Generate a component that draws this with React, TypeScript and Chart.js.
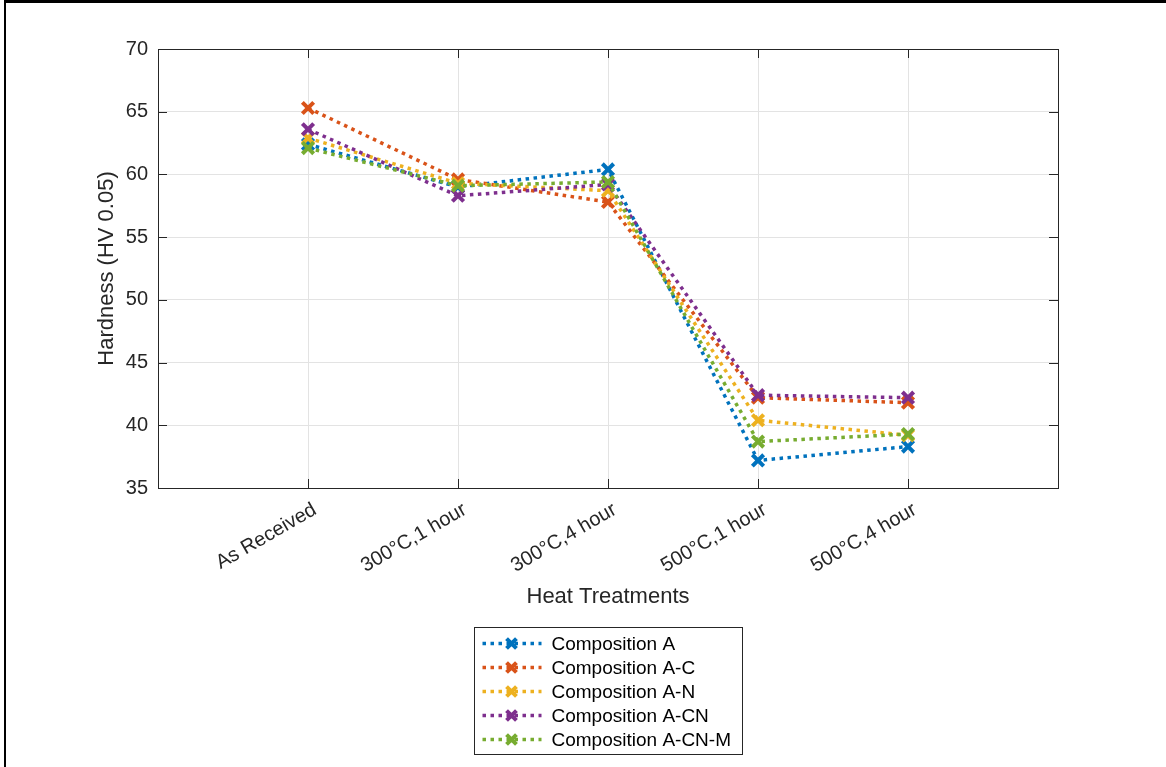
import React, { useEffect, useRef } from "react";
import { Chart, registerables } from "chart.js";

Chart.register(...registerables);

const categories = ["As Received", "300°C,1 hour", "300°C,4 hour", "500°C,1 hour", "500°C,4 hour"];
const seriesNames = ["Composition A", "Composition A-C", "Composition A-N", "Composition A-CN", "Composition A-CN-M"];
const compA = [62.4, 59.0, 60.4, 37.2, 38.3];
const compAC = [65.3, 59.6, 57.8, 42.2, 41.8];
const compAN = [62.9, 59.3, 58.7, 40.4, 39.2];
const compACN = [63.6, 58.3, 59.2, 42.4, 42.2];
const compACNM = [62.1, 59.1, 59.4, 38.7, 39.3];
const seriesColors = ["#0072BD", "#D95319", "#EDB120", "#7E2F8E", "#77AC30"];
const yTicks = [35, 40, 45, 50, 55, 60, 65, 70];

const FONT = "'Liberation Sans', Arial, Helvetica, sans-serif";
const AXIS_COLOR = "#262626";

function drawCross(ctx: CanvasRenderingContext2D, x: number, y: number, r: number, color: string, lw: number) {
  const o = Math.cos(Math.PI / 4) * r;
  ctx.save();
  ctx.strokeStyle = color;
  ctx.lineWidth = lw;
  ctx.setLineDash([]);
  ctx.beginPath();
  ctx.moveTo(x - o, y - o);
  ctx.lineTo(x + o, y + o);
  ctx.moveTo(x - o, y + o);
  ctx.lineTo(x + o, y - o);
  ctx.stroke();
  ctx.restore();
}

const boxPlugin = {
  id: "boxPlugin",
  afterDraw(chart: any) {
    const ctx = chart.ctx as CanvasRenderingContext2D;
    const { left, right, top, bottom } = chart.chartArea;
    ctx.save();
    ctx.strokeStyle = AXIS_COLOR;
    ctx.lineWidth = 1;
    ctx.strokeRect(Math.round(left) + 0.5, Math.round(top) + 0.5, Math.round(right - left), Math.round(bottom - top));
    // inward ticks
    const tl = 9;
    const ys = chart.scales.y;
    const xs = chart.scales.x;
    ctx.beginPath();
    yTicks.forEach((v) => {
      const py = Math.round(ys.getPixelForValue(v)) + 0.5;
      ctx.moveTo(left, py);
      ctx.lineTo(left + tl, py);
      ctx.moveTo(right, py);
      ctx.lineTo(right - tl, py);
    });
    categories.forEach((_, i) => {
      const px = Math.round(xs.getPixelForValue(i)) + 0.5;
      ctx.moveTo(px, bottom);
      ctx.lineTo(px, bottom - tl);
      ctx.moveTo(px, top);
      ctx.lineTo(px, top + tl);
    });
    ctx.stroke();
    ctx.restore();

    // legend
    const cx = (left + right) / 2;
    const boxW = 268;
    const boxH = 127;
    const bx = Math.round(cx - boxW / 2) + 0.5;
    const by = Math.round(bottom + 139) + 0.5;
    ctx.save();
    ctx.fillStyle = "#ffffff";
    ctx.fillRect(bx, by, boxW, boxH);
    ctx.strokeStyle = AXIS_COLOR;
    ctx.lineWidth = 1;
    ctx.strokeRect(bx, by, boxW, boxH);
    chart.data.datasets.forEach((ds: any, i: number) => {
      const ry = by + 16 + 24 * i;
      ctx.save();
      ctx.strokeStyle = ds.borderColor;
      ctx.lineWidth = 3.5;
      ctx.setLineDash([3.5, 4.5]);
      ctx.beginPath();
      ctx.moveTo(bx + 8, ry);
      ctx.lineTo(bx + 67, ry);
      ctx.stroke();
      ctx.restore();
      drawCross(ctx, bx + 37, ry, 7, ds.borderColor, 4);
      ctx.fillStyle = "#000000";
      ctx.font = `19px ${FONT}`;
      ctx.textAlign = "left";
      ctx.textBaseline = "middle";
      ctx.fillText(ds.label, bx + 77, ry + 1);
    });
    ctx.restore();
  },
};

export default function App() {
  const canvasRef = useRef<HTMLCanvasElement | null>(null);

  useEffect(() => {
    if (!canvasRef.current) return;
    const all = [compA, compAC, compAN, compACN, compACNM];
    const datasets = all.map((vals, i) => ({
      label: seriesNames[i],
      data: vals.map((v, j) => ({ x: j, y: v })),
      borderColor: seriesColors[i],
      backgroundColor: seriesColors[i],
      borderWidth: 3.5,
      borderDash: [3.5, 4.5],
      pointStyle: "crossRot",
      pointRadius: 8,
      pointBorderWidth: 4,
      pointHoverRadius: 8,
      tension: 0,
      fill: false,
      order: all.length - i,
    }));
    const chart = new Chart(canvasRef.current, {
      type: "line",
      data: { datasets },
      plugins: [boxPlugin],
      options: {
        animation: false,
        responsive: false,
        devicePixelRatio: 1,
        layout: { padding: { left: 94, top: 49, right: 108, bottom: 157 } },
        plugins: { legend: { display: false }, tooltip: { enabled: false } },
        scales: {
          x: {
            type: "linear",
            min: -1,
            max: 5,
            afterFit: (s: any) => {
              s.height = 122;
            },
            ticks: {
              stepSize: 1,
              autoSkip: false,
              maxRotation: 30,
              minRotation: 30,
              padding: 10,
              labelOffset: 7,
              color: AXIS_COLOR,
              font: { family: FONT, size: 20 },
              callback: (v: any) => (categories[v as number] ?? ""),
            },
            grid: { color: "#e3e3e3", lineWidth: 1, drawTicks: false },
            border: { display: true, color: AXIS_COLOR },
            title: {
              display: true,
              text: "Heat Treatments",
              color: AXIS_COLOR,
              font: { family: FONT, size: 22 },
              padding: { top: 0, bottom: 0 },
            },
          },
          y: {
            min: 35,
            max: 70,
            afterFit: (s: any) => {
              s.width = 64;
            },
            ticks: {
              stepSize: 5,
              padding: 10,
              color: AXIS_COLOR,
              font: { family: FONT, size: 20 },
            },
            grid: { color: "#e3e3e3", lineWidth: 1, drawTicks: false },
            border: { display: true, color: AXIS_COLOR },
            title: {
              display: true,
              text: "Hardness (HV 0.05)",
              color: AXIS_COLOR,
              font: { family: FONT, size: 22 },
              padding: { top: 0, bottom: 0 },
            },
          },
        },
      },
    } as any);
    return () => chart.destroy();
  }, []);

  return (
    <div style={{ position: "fixed", left: 0, top: 0, width: 1166, height: 767, background: "#fff" }}>
      <canvas ref={canvasRef} width={1166} height={767} style={{ position: "absolute", left: 0, top: 0 }} />
      <div
        style={{
          position: "absolute",
          left: 4,
          top: 0,
          width: 1162,
          height: 767,
          borderTop: "3px solid #000",
          borderLeft: "2px solid #000",
          boxSizing: "border-box",
          pointerEvents: "none",
        }}
      />
    </div>
  );
}
